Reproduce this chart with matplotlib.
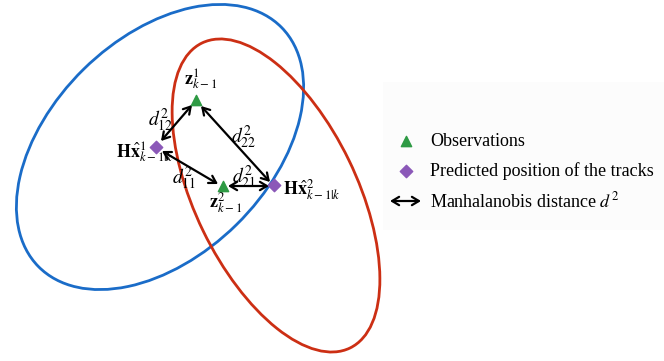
import matplotlib
matplotlib.use("Agg")
import matplotlib.pyplot as plt
from matplotlib.patches import Ellipse, Rectangle

plt.rcParams['font.family'] = ['Liberation Serif', 'DejaVu Serif']
plt.rcParams['mathtext.fontset'] = 'stix'

W, H = 664, 361

# point positions (pixel coords, y measured from top)
obs_x = [196, 223]
obs_y = [100, 186]
trk_x = [156, 274]
trk_y = [147, 185]

# gates: center x, center y, width, height, angle (deg)
gate_cx = [160, 276]
gate_cy = [147, 195.5]
gate_w = [341, 339]
gate_h = [218, 162]
gate_ang = [44.5, -64.1]
gate_col = ['#1a6cc8', '#cc2f14']

# arrows: (x0, y0, x1, y1) and distance labels
arrows = [
    (161, 141, 192, 105),
    (162, 151, 218, 184),
    (201, 106, 270, 182),
    (228, 186, 269, 186),
]
d_labels = [r'$d_{12}^{2}$', r'$d_{11}^{2}$', r'$d_{22}^{2}$', r'$d_{21}^{2}$']
d_pos = [(161, 120), (184, 178), (244, 137), (244, 177)]

legend_labels = ['Observations', 'Predicted position of the tracks',
                 r'Manhalanobis distance $d^{2}$']

green = '#2e9a44'
purple = '#8b58b8'


def up(y):
    return H - y


fig = plt.figure(figsize=(6.64, 3.61), dpi=100)
ax = fig.add_axes([0, 0, 1, 1])
ax.set_xlim(0, W)
ax.set_ylim(0, H)
ax.axis('off')

# faint legend backdrop
ax.add_patch(Rectangle((383, up(230)), 281, 148, facecolor='#fcfcfc',
                       edgecolor='none', zorder=0))

for cx, cy, w, h, a, c in zip(gate_cx, gate_cy, gate_w, gate_h, gate_ang, gate_col):
    ax.add_patch(Ellipse((cx, up(cy)), w, h, angle=a, fill=False,
                         edgecolor=c, lw=2, zorder=1))

for x0, y0, x1, y1 in arrows:
    ax.annotate('', xy=(x1, up(y1)), xytext=(x0, up(y0)),
                arrowprops=dict(arrowstyle='<->,head_length=0.5,head_width=0.3',
                                color='black', lw=1.6, shrinkA=0, shrinkB=0),
                zorder=3)

ax.scatter(obs_x, [up(y) for y in obs_y], marker='^', s=55, color=green, zorder=4)
ax.scatter(trk_x, [up(y) for y in trk_y], marker='D', s=40, color=purple, zorder=4)

for lab, (x, y) in zip(d_labels, d_pos):
    ax.text(x, up(y), lab, fontsize=14, ha='center', va='center', zorder=5)

ax.text(201, up(80), r'$\mathbf{z}_{k-1}^{1}$', fontsize=13, ha='center', va='center')
ax.text(226, up(203), r'$\mathbf{z}_{k-1}^{2}$', fontsize=13, ha='center', va='center')
ax.text(116, up(153), r'$\mathbf{H}\hat{\mathbf{x}}_{k-1|k}^{1}$', fontsize=13,
        ha='left', va='center')
ax.text(283, up(190), r'$\mathbf{H}\hat{\mathbf{x}}_{k-1|k}^{2}$', fontsize=13,
        ha='left', va='center')

# legend
ax.scatter([406], [up(141)], marker='^', s=55, color=green)
ax.scatter([406], [up(171)], marker='D', s=40, color=purple)
ax.annotate('', xy=(421, up(201)), xytext=(390, up(201)),
            arrowprops=dict(arrowstyle='<->,head_length=0.5,head_width=0.3',
                            color='black', lw=1.6, shrinkA=0, shrinkB=0))
for i, lab in enumerate(legend_labels):
    ax.text(430, up(141 + 30 * i), lab, fontsize=13, ha='left', va='center')

fig.savefig('out.png', dpi=100)
